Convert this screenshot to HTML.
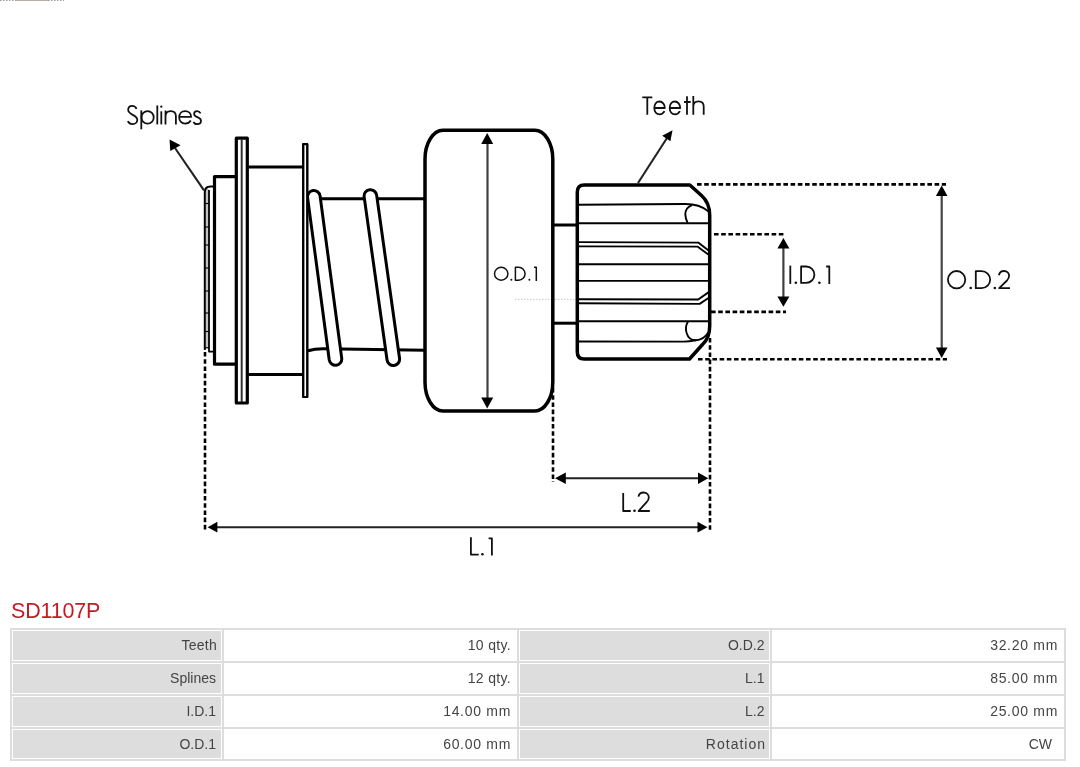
<!DOCTYPE html>
<html><head><meta charset="utf-8">
<style>
html,body{margin:0;padding:0;background:#fff;}
body{width:1080px;height:767px;overflow:hidden;position:relative;font-family:"Liberation Sans",sans-serif;}
svg{position:absolute;left:0;top:0;}
.h{position:absolute;left:11px;top:598.5px;font-size:21.5px;letter-spacing:-0.2px;color:#c61a24;line-height:24px;white-space:nowrap;will-change:transform;}
.tb{position:absolute;left:10px;top:628px;width:1056px;height:133px;background:#dddddd;}
.c{position:absolute;box-sizing:border-box;border:1px solid #fff;}
.t{position:absolute;font-size:14px;color:#444;text-align:right;white-space:nowrap;will-change:transform;}
.g{background:#dddddd;}
.w{background:#fff;}
</style></head><body>
<svg width="1080" height="600" viewBox="0 0 1080 600">
<g fill="none" stroke="#000" stroke-linecap="butt" stroke-linejoin="round">
  <!-- top-left faint dotted -->
  <line x1="0" y1="0.5" x2="16" y2="0.5" stroke="#999" stroke-width="1" stroke-dasharray="1.5 1.5"/>
  <line x1="16" y1="0.5" x2="48" y2="0.5" stroke="#b4aea4" stroke-width="1"/>
  <line x1="48" y1="0.5" x2="64" y2="0.5" stroke="#999" stroke-width="1" stroke-dasharray="1.5 1.5"/>

  <!-- spline piece -->
  <path d="M205.8,348 L205.8,189 L208.6,189 L208.6,348 Z" fill="#c4c4c4" stroke="none"/>
  <path d="M204.8,350 L204.8,192 Q205,186.5 210.5,186.5 L213,186.5" stroke-width="2"/>
  <path d="M209,190 L209,351.6 L213,351.6" stroke-width="1.8"/>
  <line x1="205" y1="347.8" x2="209" y2="347.8" stroke-width="1.2"/>
  <g stroke-width="1.1">
    <line x1="205" y1="203.5" x2="209" y2="203.5"/>
    <line x1="205" y1="227" x2="209" y2="227"/>
    <line x1="205" y1="245" x2="209" y2="245"/>
    <line x1="205" y1="268" x2="209" y2="268"/>
    <line x1="205" y1="291" x2="209" y2="291"/>
    <line x1="205" y1="313" x2="209" y2="313"/>
    <line x1="205" y1="331.5" x2="209" y2="331.5"/>
  </g>

  <!-- collar -->
  <path d="M235,176.7 L214.5,176.7 L214.5,364.2 L235,364.2" stroke-width="3.2"/>
  <!-- flange 1 -->
  <rect x="236.3" y="138.2" width="11" height="264.8" stroke-width="3.2"/>
  <line x1="241.7" y1="139" x2="241.7" y2="402" stroke-width="2" stroke="#333"/>
  <!-- body lines -->
  <line x1="248.5" y1="167" x2="303" y2="167" stroke-width="3"/>
  <line x1="248.5" y1="374.4" x2="303" y2="374.4" stroke-width="3"/>
  <!-- flange 2 -->
  <rect x="303.3" y="144.2" width="3.9" height="252.8" stroke-width="2.2"/>

  <!-- shaft -->
  <line x1="308" y1="198.8" x2="425" y2="198.8" stroke-width="3"/>
  <path d="M308,350.8 Q315,348.6 325,348.8 L425,350.3" stroke-width="3"/>

  <!-- coils -->
  <g fill="#fff" stroke-width="3">
    <path d="M307.56,197.33 A6.3,6.3 0 0 1 320.04,195.67 L341.74,358.37 A6.3,6.3 0 0 1 329.26,360.03 Z"/>
    <path d="M364.16,196.88 A6.3,6.3 0 0 1 376.64,195.12 L399.54,358.32 A6.3,6.3 0 0 1 387.06,360.08 Z"/>
  </g>
  <!-- flange 2 redraw over coil -->
  <rect x="303.3" y="144.2" width="3.9" height="252.8" stroke-width="2.2" fill="#fff"/>

    <!-- OD1 rect -->
  <rect x="425" y="130.3" width="127.8" height="280.7" rx="18" ry="29" stroke-width="3.5" fill="#fff"/>

  <!-- faint dotted center line -->
  <line x1="515" y1="299.3" x2="551" y2="299.3" stroke="#bbb" stroke-width="0.8" stroke-dasharray="1.5 1.5"/>
  <line x1="555" y1="299.3" x2="577" y2="299.3" stroke="#bbb" stroke-width="0.8" stroke-dasharray="1.5 1.5"/>
  <!-- stub lines -->
  <line x1="553" y1="225" x2="578" y2="225" stroke-width="3"/>
  <line x1="553" y1="323.2" x2="578" y2="323.2" stroke-width="3"/>

  <!-- pinion -->
  <path d="M577.3,192 Q577.3,185 584.3,185 L689.8,185 L701.5,195.5 C706.5,200 709.7,205 709.7,215 L709.7,326 C709.7,335 707.5,340 702.5,344.5 L689.5,359 L584.3,359 Q577.3,359 577.3,352 Z" stroke-width="3.5" fill="#fff"/>
  <g stroke-width="1.9">
    <path d="M578,204.7 L684,204 C693,203.8 702,206 708.2,211.2"/>
    <path d="M692,205.1 C687.5,206.8 685.2,210.5 685.3,214.5 C685.4,217.5 686.3,220.2 687.6,222.8"/>
    <line x1="578" y1="223.3" x2="709" y2="223.3"/>
    <path d="M578,242.1 L698.2,242.6 L708.6,250.6"/>
    <path d="M578,246.4 L697.4,246.6 L708.3,254.6"/>
    <line x1="578" y1="264.3" x2="709" y2="264.3"/>
    <line x1="578" y1="280.9" x2="709" y2="280.9"/>
    <path d="M578,299.2 L698.2,299.5 L708.4,292.4"/>
    <path d="M578,303.2 L699.7,303.9 L708.8,297.8"/>
    <line x1="578" y1="321.2" x2="709" y2="321.2"/>
    <path d="M688,321.6 C686,325 685.3,329 686.6,333 C688,337.5 691.5,340.3 695.8,340.3 C700.5,340.2 705.5,337 708.3,332.6"/>
    <path d="M578,341.5 L684,341.6 C689,341.5 693,340.8 695.8,340.3"/>
  </g>

  <!-- dashed extension lines -->
  <g stroke-width="2.6" stroke-dasharray="4.6 2.6">
    <line x1="697" y1="184.4" x2="946" y2="184.4"/>
    <line x1="698" y1="359.3" x2="947" y2="359.3"/>
    <line x1="714" y1="234.2" x2="785" y2="234.2"/>
    <line x1="711" y1="311.9" x2="786" y2="311.9"/>
    <line x1="205" y1="352" x2="205" y2="531"/>
    <line x1="710" y1="338" x2="710" y2="530"/>
    <line x1="553" y1="388" x2="553" y2="482"/>
  </g>
  
  <!-- dimension arrows -->
  <g stroke="#222" stroke-width="2.1">
    <line x1="487.5" y1="142" x2="487.5" y2="399" stroke="#404040" stroke-width="2.2"/>
    <line x1="941.7" y1="195" x2="941.7" y2="349" stroke="#454545" stroke-width="2.2"/>
    <line x1="783.4" y1="247" x2="783.4" y2="298" stroke="#404040" stroke-width="2.2"/>
    <line x1="564" y1="478.3" x2="700" y2="478.3"/>
    <line x1="216" y1="527.2" x2="699" y2="527.2"/>
    <line x1="175" y1="148" x2="204" y2="190.4"/>
    <line x1="638" y1="183" x2="667" y2="138"/>
  </g>
  <g fill="#000" stroke="none">
    <path d="M487.2,133 L481.2,144 L493.2,144 Z"/>
    <path d="M487.2,408.5 L481.2,397.5 L493.2,397.5 Z"/>
    <path d="M941.7,185.6 L935.9,196.1 L947.5,196.1 Z"/>
    <path d="M941.7,358 L935.9,347.6 L947.5,347.6 Z"/>
    <path d="M783.4,238 L777.4,248.5 L789.4,248.5 Z"/>
    <path d="M783.4,306.8 L777.4,296.4 L789.4,296.4 Z"/>
    <path d="M555,478.3 L565.8,472.5 L565.8,484.1 Z"/>
    <path d="M708.3,478.3 L698,472.5 L698,484.1 Z"/>
    <path d="M207.6,527.2 L217.4,521.8 L217.4,532.6 Z"/>
    <path d="M707.5,527.2 L697.5,521.8 L697.5,532.6 Z"/>
    <path d="M169.5,139.5 L170.3,151 L180.6,145.2 Z"/>
    <path d="M672.5,130.2 L662.2,135.7 L670.4,141.2 Z"/>
  </g>

  <!-- labels (geometric glyphs) -->
  <g stroke="#111" stroke-width="1.8" stroke-linecap="butt">
    <!-- Splines -->
    <path d="M136.6,108.9 C135.6,106.8 133.9,105.9 132.2,105.9 C129.6,105.9 128.2,107.8 128.2,110.1 C128.2,114.9 137.3,114.8 137.3,119.7 C137.3,122.4 135.3,124.2 132.6,124.2 C130.3,124.2 128.6,122.9 127.8,121.2"/>
    <path d="M141.3,110.4 L141.3,129.3"/>
    <ellipse cx="147.6" cy="117.4" rx="6.1" ry="6.3"/>
    <path d="M157.3,105.4 L157.3,124.4"/>
    <path d="M161.3,111.3 L161.3,124.4"/>
    <circle cx="161.3" cy="106.7" r="1.15" fill="#111" stroke="none"/>
    <path d="M165.5,110.4 L165.5,124.4 M165.5,116.3 C165.5,112.6 167.6,111.1 170.7,111.1 C173.8,111.1 175.9,112.6 175.9,116.3 L175.9,124.4"/>
    <path d="M179.2,116.9 L191.1,116.9 C191.1,113.3 188.6,111.1 185.1,111.1 C181.6,111.1 179.2,113.9 179.2,117.4 C179.2,121.1 181.8,123.7 185.1,123.7 C187.6,123.7 189.6,122.5 190.8,120.6"/>
    <path d="M200.6,113.3 C199.8,111.8 198.6,111.1 197.1,111.1 C195.2,111.1 194.1,112.3 194.1,113.9 C194.1,117.7 201,116.6 201,120.8 C201,122.8 199.3,124.2 197.2,124.2 C195.4,124.2 194.1,123.3 193.4,122"/>

    <!-- Teeth -->
    <path d="M642.3,97.3 L652.3,97.3 M647.3,97.3 L647.3,114.7"/>
    <path d="M654.3,108 L664.8,108 C664.8,104.3 662.4,101.5 659.5,101.5 C656.4,101.5 654.3,104.4 654.3,108.1 C654.3,111.8 656.6,114.4 659.5,114.4 C661.7,114.4 663.5,113.2 664.5,111.2"/>
    <path d="M669.7,108 L680.2,108 C680.2,104.3 677.8,101.5 674.9,101.5 C671.8,101.5 669.7,104.4 669.7,108.1 C669.7,111.8 672,114.4 674.9,114.4 C677.1,114.4 678.9,113.2 679.9,111.2"/>
    <path d="M687,96.3 L687,114.7 M684,102 L690.7,102"/>
    <path d="M693.3,96 L693.3,114.7 M693.3,106.5 C693.3,103 695.5,101.3 698.5,101.3 C701.5,101.3 703.7,103 703.7,106.5 L703.7,114.7"/>

    <!-- O.D.2 -->
    <circle cx="956.6" cy="279.65" r="8.65"/>
    <circle cx="970.7" cy="288" r="1.3" fill="#111" stroke="none"/>
    <path d="M975.8,271.1 L981.6,271.1 A8.55,8.55 0 0 1 981.6,288.2 L975.8,288.2 Z"/>
    <circle cx="994.8" cy="288" r="1.3" fill="#111" stroke="none"/>
    <path d="M998.9,275.2 C999.5,272.4 1001.5,271 1004,271 C1007,271 1009.1,273.1 1009.1,275.8 C1009.1,277.8 1008.2,279.2 1007,280.5 L999.2,288.2 L1010,288.2"/>

    <!-- I.D.1 -->
    <path d="M790.3,265.6 L790.3,283.9"/>
    <circle cx="795.8" cy="282.8" r="1.3" fill="#111" stroke="none"/>
    <path d="M801.1,266.5 L806.2,266.5 A8.2,8.2 0 0 1 806.2,282.9 L801.1,282.9 Z"/>
    <circle cx="819.4" cy="282.8" r="1.3" fill="#111" stroke="none"/>
    <path d="M826.1,266.5 L829.3,266.5 L829.3,283.9"/>

    <!-- O.D.1 -->
    <g stroke-width="1.5">
      <ellipse cx="501.2" cy="273.75" rx="6.7" ry="6.45"/>
      <circle cx="511.4" cy="279.8" r="1" fill="#111" stroke="none"/>
      <path d="M515.4,267.3 L518.6,267.3 A6.45,6.45 0 0 1 518.6,280.2 L515.4,280.2 Z"/>
      <circle cx="529.4" cy="279.8" r="1" fill="#111" stroke="none"/>
      <path d="M534,267.2 L536.3,267.2 L536.3,280.9"/>
    </g>

    <!-- L.2 -->
    <path d="M623.2,493.1 L623.2,511 L630.8,511"/>
    <circle cx="634.5" cy="510.7" r="1.3" fill="#111" stroke="none"/>
    <path d="M638.4,496.6 C639,493.9 641,492.5 643.5,492.5 C646.5,492.5 648.8,494.6 648.8,497.5 C648.8,499.5 647.9,500.9 646.6,502.2 L638.6,511 L649.8,511"/>

    <!-- L.1 -->
    <path d="M470.9,537.3 L470.9,554.6 L478.7,554.6"/>
    <circle cx="482.4" cy="554.2" r="1.3" fill="#111" stroke="none"/>
    <path d="M488.6,538.3 L491.9,538.3 L491.9,555.5"/>
  </g>
</g>
</svg>

<div class="h">SD1107P</div>

<!--TABLE-->
<div class="tb"></div>
<div class="c g" style="left:12px;top:630px;width:210px;height:31px;"></div>
<div class="c w" style="left:224px;top:630px;width:293px;height:31px;"></div>
<div class="c g" style="left:519px;top:630px;width:251px;height:31px;"></div>
<div class="c w" style="left:772px;top:630px;width:292px;height:31px;"></div>
<div class="c g" style="left:12px;top:663px;width:210px;height:31px;"></div>
<div class="c w" style="left:224px;top:663px;width:293px;height:31px;"></div>
<div class="c g" style="left:519px;top:663px;width:251px;height:31px;"></div>
<div class="c w" style="left:772px;top:663px;width:292px;height:31px;"></div>
<div class="c g" style="left:12px;top:696px;width:210px;height:31px;"></div>
<div class="c w" style="left:224px;top:696px;width:293px;height:31px;"></div>
<div class="c g" style="left:519px;top:696px;width:251px;height:31px;"></div>
<div class="c w" style="left:772px;top:696px;width:292px;height:31px;"></div>
<div class="c g" style="left:12px;top:729px;width:210px;height:30px;"></div>
<div class="c w" style="left:224px;top:729px;width:293px;height:30px;"></div>
<div class="c g" style="left:519px;top:729px;width:251px;height:30px;"></div>
<div class="c w" style="left:772px;top:729px;width:292px;height:30px;"></div>
<div class="t" style="left:0;width:217.00px;top:630px;height:31px;line-height:31px;letter-spacing:0.25px;">Teeth</div>
<div class="t" style="left:0;width:511.00px;top:630px;height:31px;line-height:31px;letter-spacing:0.33px;">10 qty.</div>
<div class="t" style="left:0;width:764.50px;top:630px;height:31px;line-height:31px;letter-spacing:0px;">O.D.2</div>
<div class="t" style="left:0;width:1058.00px;top:630px;height:31px;line-height:31px;letter-spacing:0.7px;">32.20 mm</div>
<div class="t" style="left:0;width:216.00px;top:663px;height:31px;line-height:31px;letter-spacing:0px;">Splines</div>
<div class="t" style="left:0;width:511.00px;top:663px;height:31px;line-height:31px;letter-spacing:0.33px;">12 qty.</div>
<div class="t" style="left:0;width:764.50px;top:663px;height:31px;line-height:31px;letter-spacing:0px;">L.1</div>
<div class="t" style="left:0;width:1058.00px;top:663px;height:31px;line-height:31px;letter-spacing:0.7px;">85.00 mm</div>
<div class="t" style="left:0;width:216.00px;top:696px;height:31px;line-height:31px;letter-spacing:0px;">I.D.1</div>
<div class="t" style="left:0;width:511.00px;top:696px;height:31px;line-height:31px;letter-spacing:0.7px;">14.00 mm</div>
<div class="t" style="left:0;width:764.50px;top:696px;height:31px;line-height:31px;letter-spacing:0px;">L.2</div>
<div class="t" style="left:0;width:1058.00px;top:696px;height:31px;line-height:31px;letter-spacing:0.7px;">25.00 mm</div>
<div class="t" style="left:0;width:216.00px;top:729px;height:30px;line-height:30px;letter-spacing:0px;">O.D.1</div>
<div class="t" style="left:0;width:511.00px;top:729px;height:30px;line-height:30px;letter-spacing:0.7px;">60.00 mm</div>
<div class="t" style="left:0;width:766.00px;top:729px;height:30px;line-height:30px;letter-spacing:1.0px;">Rotation</div>
<div class="t" style="left:0;width:1052.00px;top:729px;height:30px;line-height:30px;letter-spacing:0.0px;">CW</div>
<!--/TABLE-->
</body></html>
